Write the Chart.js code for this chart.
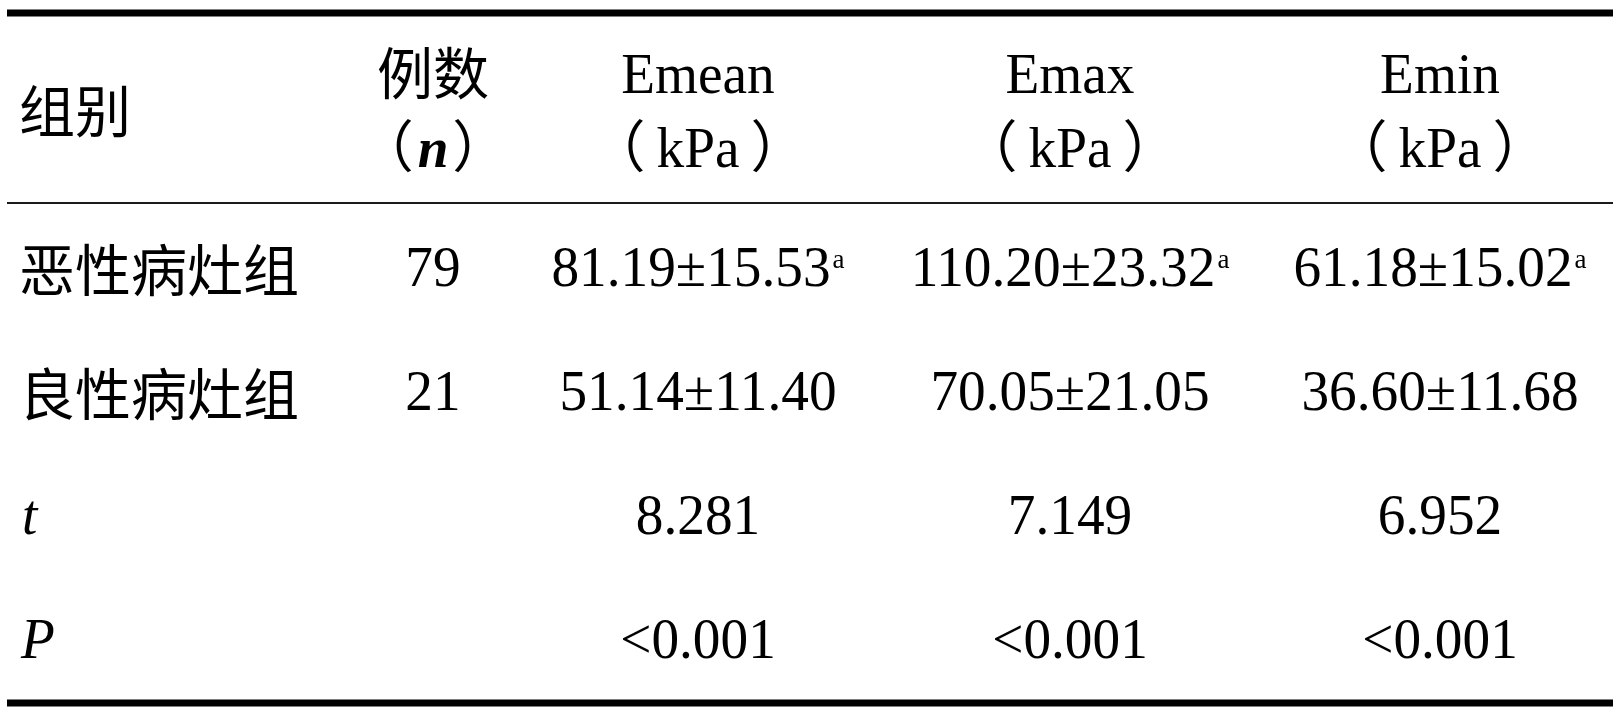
<!DOCTYPE html>
<html>
<head>
<meta charset="utf-8">
<script src="https://cdn.jsdelivr.net/npm/chart.js@4.4.1/dist/chart.umd.min.js"></script>
<style>
  html, body { margin: 0; padding: 0; background: #fff; }
  #wrap { width: 1616px; height: 712px; }
</style>
</head>
<body>
<div id="wrap"><canvas id="tableChart" width="1616" height="712"></canvas></div>
<script>
// table values
const groups = ['恶性病灶组', '良性病灶组'];
const counts = [79, 21];
const metrics = ['Emean', 'Emax', 'Emin'];
const unit = 'kPa';
const malignantMean = [81.19, 110.20, 61.18];
const malignantSD = [15.53, 23.32, 15.02];
const benignMean = [51.14, 70.05, 36.60];
const benignSD = [11.40, 21.05, 11.68];
const tValues = [8.281, 7.149, 6.952];
const pValues = ['<0.001', '<0.001', '<0.001'];
const malignantMark = 'a';

// layout (scale units = pixels of the 1616x712 picture)
const colX = [19, 433, 698, 1070, 1440];
const rowBase = [286, 410, 534, 658];
const rules = [
  { y: 13, w: 7 },
  { y: 203, w: 2 },
  { y: 703, w: 7 }
];

const CJK = '"Noto Sans CJK SC", "Noto Sans", sans-serif';
const SERIF = '"Liberation Serif", "Times New Roman", "DejaVu Serif", serif';
const NUM_SIZE = 57;
const NUM_SX = 0.97;

function numFont(style) { return (style || '') + ' ' + NUM_SIZE + 'px ' + SERIF; }

// draw a line of mixed runs, x is left edge or centre
function drawRuns(ctx, runs, x, baseline, align) {
  let total = 0;
  runs.forEach(r => {
    if (r.gap) { r.w = r.gap; total += r.w; return; }
    ctx.font = r.font;
    r.w = ctx.measureText(r.t).width * (r.sx || 1);
    total += r.w;
  });
  let cx = align === 'center' ? x - total / 2 : x;
  runs.forEach(r => {
    if (!r.gap) {
      ctx.save();
      ctx.font = r.font;
      ctx.translate(cx, baseline + (r.dy || 0));
      ctx.scale(r.sx || 1, 1);
      ctx.textAlign = 'left';
      ctx.textBaseline = 'alphabetic';
      ctx.fillText(r.t, 0, 0);
      ctx.restore();
    }
    cx += r.w;
  });
}

const num = t => ({ t: t, font: numFont(), sx: NUM_SX });
const cjk = t => ({ t: t, font: '56px ' + CJK });
const sup = t => ({ t: t, font: '27px ' + SERIF, dy: -18 });
const gap = w => ({ gap: w });
const paren = (inner, g) => [cjk('（'), gap(g)].concat(inner, [gap(g), cjk('）')]);

const tablePlugin = {
  id: 'tableDraw',
  afterDraw(chart) {
    const ctx = chart.ctx;
    const xs = chart.scales.x, ys = chart.scales.y;
    const X = v => xs.getPixelForValue(v);
    const Y = v => ys.getPixelForValue(v);
    ctx.save();

    // horizontal rules
    rules.forEach(r => {
      ctx.fillStyle = r.w > 3 ? '#000' : '#1a1a1a';
      ctx.fillRect(X(7), Y(r.y) - r.w / 2, X(1613) - X(7), r.w);
    });
    ctx.fillStyle = '#000';

    // header
    drawRuns(ctx, [cjk('组别')], X(colX[0]), Y(132), 'left');
    drawRuns(ctx, [cjk('例数')], X(colX[1]), Y(94), 'center');
    drawRuns(ctx, paren([{ t: 'n', font: 'italic bold ' + NUM_SIZE + 'px ' + SERIF, sx: NUM_SX }], 4),
      X(colX[1]), Y(167), 'center');
    metrics.forEach((m, i) => {
      drawRuns(ctx, [num(m)], X(colX[i + 2]), Y(93), 'center');
      drawRuns(ctx, paren([num(unit)], 11), X(colX[i + 2]), Y(167), 'center');
    });

    // group rows
    const means = [malignantMean, benignMean];
    const sds = [malignantSD, benignSD];
    groups.forEach((g, r) => {
      const base = rowBase[r];
      drawRuns(ctx, [cjk(g)], X(colX[0]), Y(base + 5), 'left');
      drawRuns(ctx, [num(String(counts[r]))], X(colX[1]), Y(base), 'center');
      metrics.forEach((m, i) => {
        const runs = [num(means[r][i].toFixed(2) + '±' + sds[r][i].toFixed(2))];
        if (r === 0) runs.push(gap(2), sup(malignantMark));
        drawRuns(ctx, runs, X(colX[i + 2]), Y(base), 'center');
      });
    });

    // statistics rows
    const italic = t => ({ t: t, font: numFont('italic'), sx: NUM_SX });
    drawRuns(ctx, [italic('t')], X(colX[0] + 3), Y(rowBase[2]), 'left');
    drawRuns(ctx, [italic('P')], X(colX[0] + 2), Y(rowBase[3]), 'left');
    metrics.forEach((m, i) => {
      drawRuns(ctx, [num(tValues[i].toFixed(3))], X(colX[i + 2]), Y(rowBase[2]), 'center');
      drawRuns(ctx, [num(pValues[i])], X(colX[i + 2]), Y(rowBase[3]), 'center');
    });
    ctx.restore();
  }
};

const chart = new Chart(document.getElementById('tableChart').getContext('2d'), {
  type: 'scatter',
  data: { datasets: [{ data: [], pointRadius: 0 }] },
  options: {
    responsive: false,
    animation: false,
    devicePixelRatio: 1,
    layout: { padding: 0 },
    plugins: { legend: { display: false }, tooltip: { enabled: false } },
    scales: {
      x: { type: 'linear', min: 0, max: 1616, display: false },
      y: { type: 'linear', min: 0, max: 712, reverse: true, display: false }
    }
  },
  plugins: [tablePlugin]
});
</script>
</body>
</html>
